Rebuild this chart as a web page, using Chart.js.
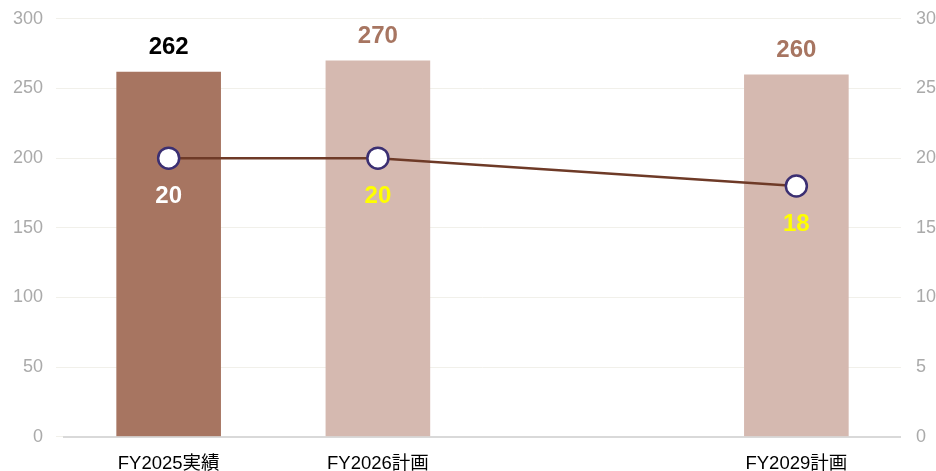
<!DOCTYPE html>
<html>
<head>
<meta charset="utf-8">
<script src="https://cdn.jsdelivr.net/npm/chart.js@4.4.1/dist/chart.umd.min.js"></script>
<style>
	html, body { margin: 0; padding: 0; background: #ffffff; overflow: hidden; }
	#wrap { width: 943px; height: 488px; margin-top: -5px; position: relative; }
</style>
</head>
<body>
<div id="wrap"><canvas id="canvas1"></canvas></div>
<script>
// chart data
var categories = ["FY2025実績", "FY2026計画", "", "FY2029計画"];
var barValues = [262, 270, null, 260];
var lineValues = [20, 20, null, 18];
var leftTicks = [0, 50, 100, 150, 200, 250, 300];
var rightTicks = [0, 5, 10, 15, 20, 25, 30];

var barColors = ["#a77561", "#d5b9b0", "#d5b9b0", "#d5b9b0"];
var barLabelColors = ["#000000", "#a77561", "#a77561", "#a77561"];
var lineLabelColors = ["#ffffff", "#ffff00", "#ffff00", "#ffff00"];

var fontFamily = "'Liberation Sans', Arial, 'Noto Sans CJK JP', sans-serif";

// draw value labels (no datalabels plugin available offline)
var valueLabels = {
	id: 'valueLabels',
	afterDatasetsDraw: function (chart) {
		var ctx = chart.ctx;
		ctx.save();
		ctx.font = "bold 24px " + fontFamily;
		ctx.textAlign = "center";
		ctx.textBaseline = "middle";
		chart.getDatasetMeta(0).data.forEach(function (bar, i) {
			if (barValues[i] == null) return;
			ctx.fillStyle = barLabelColors[i];
			ctx.fillText(barValues[i], bar.x, bar.y - 24);
		});
		chart.getDatasetMeta(1).data.forEach(function (pt, i) {
			if (lineValues[i] == null) return;
			ctx.fillStyle = lineLabelColors[i];
			ctx.fillText(lineValues[i], pt.x, pt.y + 38);
		});
		ctx.restore();
	}
};

new Chart(document.getElementById("canvas1"), {
	type: 'bar',
	data: {
		labels: categories,
		datasets: [{
			type: 'bar',
			data: barValues,
			backgroundColor: barColors,
			yAxisID: 'y',
			categoryPercentage: 0.5,
			barPercentage: 1,
			order: 2
		}, {
			type: 'line',
			data: lineValues,
			yAxisID: 'y1',
			borderColor: "#6e3a27",
			borderWidth: 2.5,
			spanGaps: true,
			tension: 0,
			pointRadius: 10.5,
			pointBorderWidth: 2.5,
			pointBackgroundColor: "#ffffff",
			pointBorderColor: "#3b2f72",
			order: 1
		}]
	},
	options: {
		responsive: true,
		maintainAspectRatio: false,
		animation: false,
		layout: { padding: { top: 0, left: 0, right: 0, bottom: 0 } },
		plugins: {
			legend: { display: false },
			tooltip: { enabled: false }
		},
		scales: {
			x: {
				grid: { display: false },
				border: { display: true, color: "#d9d9d9", width: 2 },
				ticks: {
					color: "#000000",
					font: { size: 18.5, family: fontFamily },
					padding: 8,
					maxRotation: 0,
					autoSkip: false
				}
			},
			y: {
				position: 'left',
				min: 0,
				max: 300,
				afterBuildTicks: function (axis) {
					axis.ticks = leftTicks.map(function (v) { return { value: v }; });
				},
				grid: { color: "#f1f0ea", tickLength: 8 },
				border: { display: false },
				ticks: {
					color: "#aaaaaa",
					font: { size: 18, family: fontFamily },
					padding: 13
				}
			},
			y1: {
				position: 'right',
				min: 0,
				max: 30,
				afterBuildTicks: function (axis) {
					axis.ticks = rightTicks.map(function (v) { return { value: v }; });
				},
				grid: { display: false },
				border: { display: false },
				ticks: {
					color: "#aaaaaa",
					font: { size: 18, family: fontFamily },
					padding: 7
				}
			}
		}
	},
	plugins: [valueLabels]
});
</script>
</body>
</html>
